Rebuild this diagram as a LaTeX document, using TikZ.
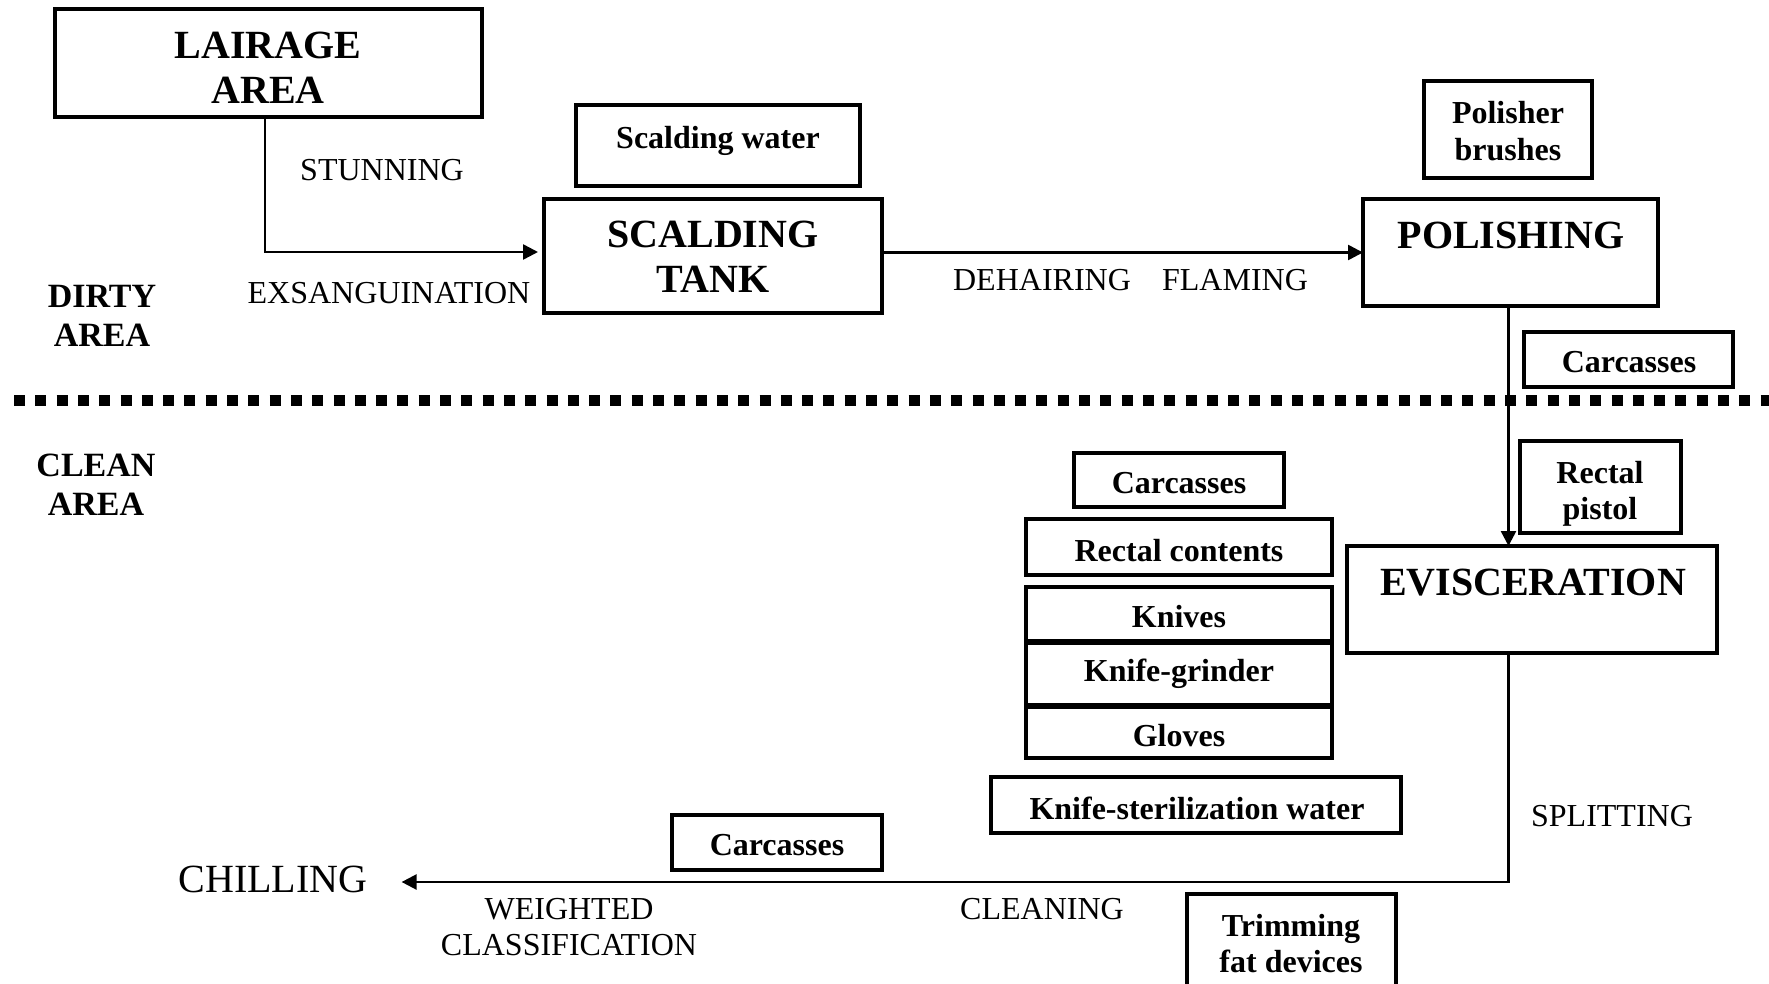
\documentclass[tikz,border=0pt]{standalone}
\usepackage{fontspec}
\setmainfont{Liberation Serif}
\usetikzlibrary{arrows.meta,calc}
\newcommand\boxat[5]{\node[box, minimum width={#4-#2}, minimum height={#5-#3}] (#1) at ({(#2+#4)/2},{(#3+#5)/2}) {};}
\begin{document}
\begin{tikzpicture}[x=1pt,y=-1pt,
  box/.style={draw, line width=3.6pt, inner sep=0pt, outer sep=0pt},
  big/.style={font=\bfseries\fontsize{40}{45}\selectfont, inner sep=0pt, text height=27pt, text depth=0pt},
  small/.style={font=\bfseries\fontsize{32}{36}\selectfont, inner sep=0pt, text height=21.5pt, text depth=0pt},
  reg/.style={font=\fontsize{32}{36}\selectfont, inner sep=0pt, text height=21pt, text depth=0pt},
  area/.style={font=\bfseries\fontsize{34}{38}\selectfont, inner sep=0pt, text height=23pt, text depth=0pt},
  chilltxt/.style={font=\fontsize{40}{45}\selectfont, inner sep=0pt, text height=26.5pt, text depth=0pt},
  arr/.style={line width=2.5pt, -{Triangle[length=15pt,width=15pt]}},
  conn/.style={line width=2.5pt}]
\clip (0,0) rectangle (1769,984);
\fill[white] (0,0) rectangle (1769,984);
% dividing line
\draw[line width=11pt, dash pattern=on 11pt off 10.3pt] (14,400) -- (1769,400);
% boxes
\boxat{lair}{55}{9}{482}{117}
\node[big] (lair1) at (268,45) {LAIRAGE};
\node[big] (lair2) at (268,90) {AREA};
\boxat{scw}{576}{105}{860}{186}
\node[small] (scwt) at (718,138) {Scalding water};
\boxat{tank}{544}{199}{882}{313}
\node[big] (tank1) at (713,234) {SCALDING};
\node[big] (tank2) at (713,279) {TANK};
\boxat{polb}{1424}{81}{1592}{178}
\node[small] (polb1) at (1508,113) {Polisher};
\node[small] (polb2) at (1508,150) {brushes};
\boxat{pol}{1363}{199}{1658}{306}
\node[big] (polt) at (1511,235) {POLISHING};
\boxat{carc1}{1524}{332}{1733}{387}
\node[small] (carc1t) at (1629,362) {Carcasses};
\boxat{carc2}{1074}{453}{1284}{507}
\node[small] (carc2t) at (1179,483) {Carcasses};
\boxat{rect}{1026}{519}{1332}{575}
\node[small] (rectt) at (1179,551) {Rectal contents};
\boxat{knv}{1026}{587}{1332}{641}
\node[small] (knvt) at (1179,617) {Knives};
\boxat{grd}{1026}{643}{1332}{705}
\node[small] (grdt) at (1179,671) {Knife-grinder};
\boxat{glv}{1026}{707}{1332}{758}
\node[small] (glvt) at (1179,736) {Gloves};
\boxat{ster}{991}{777}{1401}{833}
\node[small] (stert) at (1197,809) {Knife-sterilization water};
\boxat{pist}{1520}{441}{1681}{533}
\node[small] (pist1) at (1600,473) {Rectal};
\node[small] (pist2) at (1600,509) {pistol};
\boxat{evis}{1347}{546}{1717}{653}
\node[big] (evist) at (1533,582) {EVISCERATION};
\boxat{carc3}{672}{815}{882}{870}
\node[small] (carc3t) at (777,845) {Carcasses};
\boxat{trim}{1187}{894}{1396}{1000}
\node[small] (trim1) at (1291,926) {Trimming};
\node[small] (trim2) at (1291,962) {fat devices};
% area labels
\node[area] (dirty1) at (102,296) {DIRTY};
\node[area] (dirty2) at (102,335) {AREA};
\node[area] (clean1) at (96,465) {CLEAN};
\node[area] (clean2) at (96,504) {AREA};
% step labels
\node[reg] (stun) at (382,170) {STUNNING};
\node[reg] (exs) at (389,293) {EXSANGUINATION};
\node[reg] (dehair) at (1042,280) {DEHAIRING};
\node[reg] (flam) at (1235,280) {FLAMING};
\node[reg] (split) at (1612,816) {SPLITTING};
\node[reg] (clean) at (1042,909) {CLEANING};
\node[reg] (weight1) at (569,909) {WEIGHTED};
\node[reg] (weight2) at (569,945) {CLASSIFICATION};
\node[chilltxt] (chill) at (273,879) {CHILLING};
% connectors
\draw[arr] ([xshift=-3.5pt]lair.south) |- ([xshift=-6pt,yshift=4pt]tank.west);
\draw[arr] (tank.east |- pol.west) -- (pol.west);
\draw[arr] ([xshift=-2pt]pol.south) -- ([xshift=-2pt]pol.south |- evis.north);
\draw[arr] ([xshift=-2pt]pol.south |- evis.south) |- ([xshift=34pt,yshift=-3pt]chill.east);
\end{tikzpicture}
\end{document}
